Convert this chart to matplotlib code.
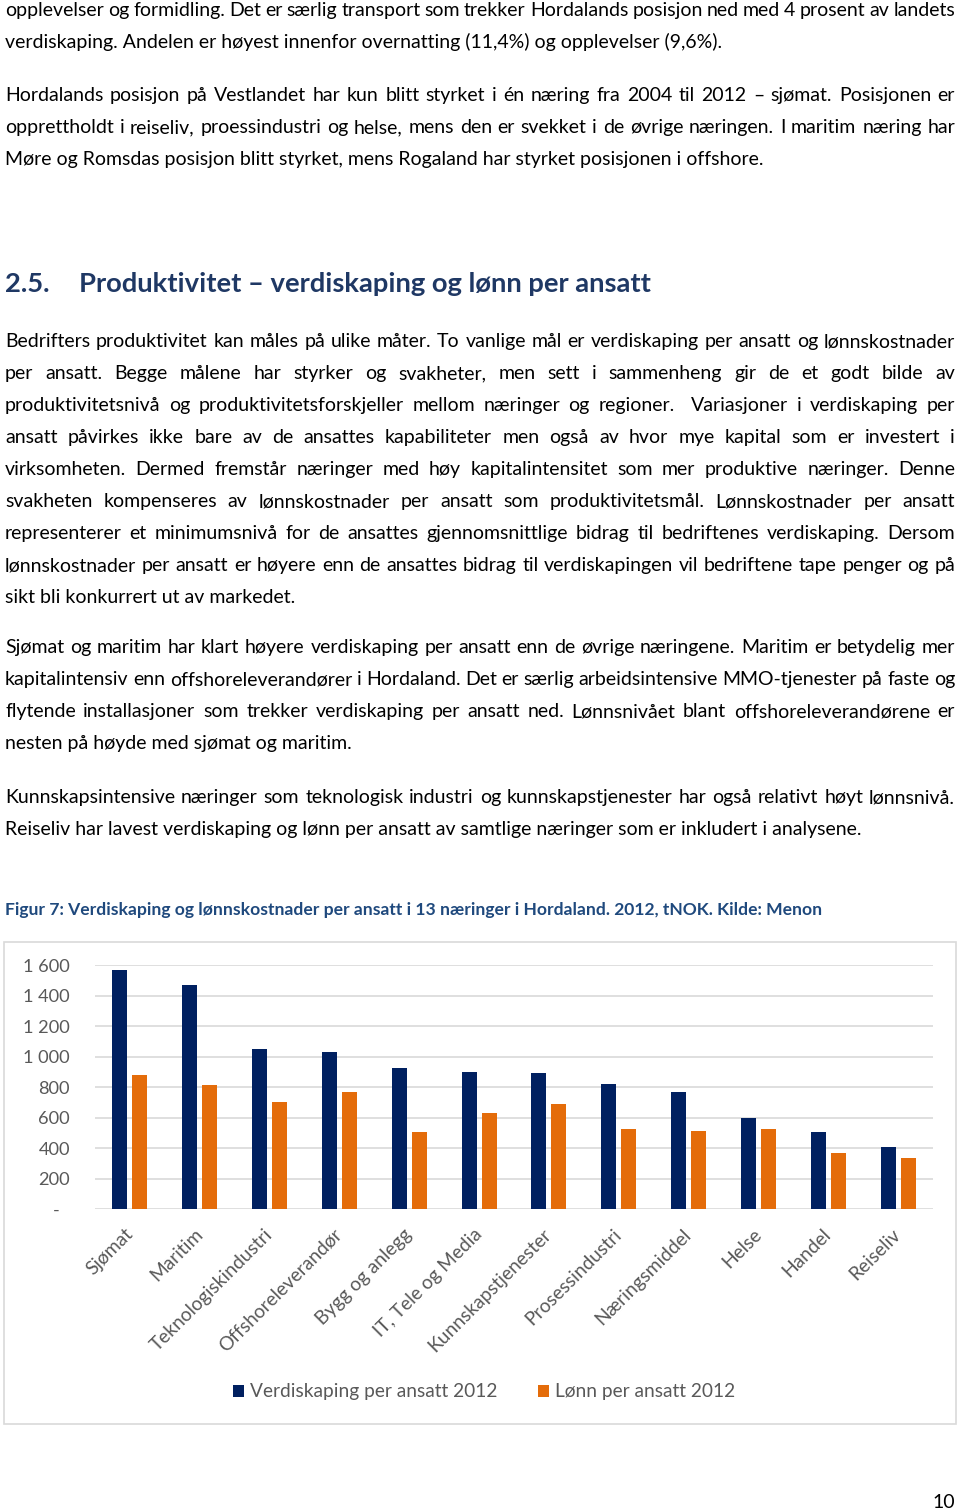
import matplotlib
matplotlib.use("Agg")
import matplotlib.pyplot as plt
import matplotlib.transforms as mtrans
from matplotlib.patches import Rectangle, Patch
from matplotlib.ticker import FixedLocator, FixedFormatter
import numpy as np

# ---------------- data ----------------
categories = ["Sjømat", "Maritim", "Teknologiskindustri", "Offshoreleverandør",
              "Bygg og anlegg", "IT, Tele og Media", "Kunnskapstjenester",
              "Prosessindustri", "Næringsmiddel", "Helse", "Handel", "Reiseliv"]
verdiskaping = [1570, 1467, 1050, 1031, 924, 900, 895, 821, 769, 600, 504, 410]
lonn = [880, 817, 701, 769, 509, 629, 690, 528, 511, 528, 371, 334]
y_ticks = [0, 200, 400, 600, 800, 1000, 1200, 1400, 1600]
y_tick_labels = ["-", "200", "400", "600", "800", "1 000", "1 200", "1 400", "1 600"]
series_names = ["Verdiskaping per ansatt 2012", "Lønn per ansatt 2012"]

para1 = [("opplevelser og formidling. Det er særlig transport som trekker Hordalands posisjon ned med 4 prosent av landets", True),
         ("verdiskaping. Andelen er høyest innenfor overnatting (11,4%) og opplevelser (9,6%).", False)]
para2 = [("Hordalands posisjon på Vestlandet har kun blitt styrket i én næring fra 2004 til 2012 – sjømat. Posisjonen er", True),
         ("opprettholdt i reiseliv, proessindustri og helse, mens den er svekket i de øvrige næringen. I maritim næring har", True),
         ("Møre og Romsdas posisjon blitt styrket, mens Rogaland har styrket posisjonen i offshore.", False)]
heading_num = "2.5."
heading_text = "Produktivitet – verdiskaping og lønn per ansatt"
para3 = [("Bedrifters produktivitet kan måles på ulike måter. To vanlige mål er verdiskaping per ansatt og lønnskostnader", True),
         ("per ansatt. Begge målene har styrker og svakheter, men sett i sammenheng gir de et godt bilde av", True),
         ("produktivitetsnivå og produktivitetsforskjeller mellom næringer og regioner.  Variasjoner i verdiskaping per", True),
         ("ansatt påvirkes ikke bare av de ansattes kapabiliteter men også av hvor mye kapital som er investert i", True),
         ("virksomheten. Dermed fremstår næringer med høy kapitalintensitet som mer produktive næringer. Denne", True),
         ("svakheten kompenseres av lønnskostnader per ansatt som produktivitetsmål. Lønnskostnader per ansatt", True),
         ("representerer et minimumsnivå for de ansattes gjennomsnittlige bidrag til bedriftenes verdiskaping. Dersom", True),
         ("lønnskostnader per ansatt er høyere enn de ansattes bidrag til verdiskapingen vil bedriftene tape penger og på", True),
         ("sikt bli konkurrert ut av markedet.", False)]
para4 = [("Sjømat og maritim har klart høyere verdiskaping per ansatt enn de øvrige næringene. Maritim er betydelig mer", True),
         ("kapitalintensiv enn offshoreleverandører i Hordaland. Det er særlig arbeidsintensive MMO-tjenester på faste og", True),
         ("flytende installasjoner som trekker verdiskaping per ansatt ned. Lønnsnivået blant offshoreleverandørene er", True),
         ("nesten på høyde med sjømat og maritim.", False)]
para5 = [("Kunnskapsintensive næringer som teknologisk industri og kunnskapstjenester har også relativt høyt lønnsnivå.", True),
         ("Reiseliv har lavest verdiskaping og lønn per ansatt av samtlige næringer som er inkludert i analysene.", False)]
caption = "Figur 7: Verdiskaping og lønnskostnader per ansatt i 13 næringer i Hordaland. 2012, tNOK. Kilde: Menon"
page_number = "10"

# ---------------- style ----------------
FONT = ["Lato", "DejaVu Sans"]
NAVY = "#002060"
ORANGE = "#E46C0A"
GRID = "#D9D9D9"
AXTXT = "#595959"
HEAD = "#1F3864"
CAPT = "#1F497D"

W, H = 960, 1512
fig = plt.figure(figsize=(W / 100, H / 100), dpi=100)
page = fig.add_axes([0, 0, 1, 1])
page.set_xlim(0, W)
page.set_ylim(H, 0)
page.axis("off")
renderer = fig.canvas.get_renderer()


def width_of(s, size=10, weight="normal"):
    t = page.text(0, 0, s, fontsize=size, family=FONT, weight=weight)
    w = t.get_window_extent(renderer).width
    t.remove()
    return w


X0, X1 = 5, 955
all_lines = para1 + para2 + para3 + para4 + para5
body = 10 * 857 / width_of(para5[1][0])
maxjust = max(width_of(l, 10) for l, j in all_lines if j)
body = min(body, 10 * (X1 - X0) / maxjust * 1.015)


def draw_line(text, y, justify, size, color="black", weight="normal"):
    if not justify:
        page.text(X0, y, text, fontsize=size, family=FONT, color=color,
                  weight=weight, va="baseline", ha="left")
        return
    words = text.split(" ")
    widths = [width_of(w, size, weight) if w else 0 for w in words]
    gap = (X1 - X0 - sum(widths)) / (len(words) - 1)
    x = X0
    for w, wd in zip(words, widths):
        if w:
            page.text(x, y, w, fontsize=size, family=FONT, color=color,
                      weight=weight, va="baseline", ha="left")
        x += wd + gap


def draw_para(lines, y0, step=32):
    for i, (t, j) in enumerate(lines):
        draw_line(t, y0 + i * step, j, body)


draw_para(para1, 16)
draw_para(para2, 101)
draw_para(para3, 347)
draw_para(para4, 653)
draw_para(para5, 803)

hsize = 10 * 573 / width_of(heading_text, 10, "bold")
page.text(5, 292, heading_num, fontsize=hsize, family=FONT, weight="bold",
          color=HEAD, va="baseline")
page.text(79, 292, heading_text, fontsize=hsize, family=FONT, weight="bold",
          color=HEAD, va="baseline")

csize = 10 * 815 / width_of(caption, 10, "bold")
page.text(5, 915, caption, fontsize=csize, family=FONT, weight="bold",
          color=CAPT, va="baseline")

page.text(955, 1508, page_number, fontsize=body, family=FONT, color="black",
          ha="right", va="baseline")

# chart border
page.add_patch(Rectangle((4, 942), 952, 482, fill=False, edgecolor=GRID, lw=1.2))

# ---------------- chart ----------------
chsize = 10 * 47 / width_of("1 600", 10)
lblsize = chsize * 1.05
ax_left, ax_right, ax_top, ax_bot = 95, 933, 965, 1209.3
ax = fig.add_axes([ax_left / W, 1 - ax_bot / H, (ax_right - ax_left) / W,
                   (ax_bot - ax_top) / H])
ax.set_facecolor("none")
x = np.arange(len(categories))
bw = 0.215
off = 0.143
ax.bar(x - off, verdiskaping, width=bw, color=NAVY, zorder=3)
ax.bar(x + off, lonn, width=bw, color=ORANGE, zorder=3)
ax.set_xlim(-0.5, len(categories) - 0.5)
ax.set_ylim(0, 1600)
for s in ax.spines.values():
    s.set_visible(False)
ax.yaxis.set_major_locator(FixedLocator(y_ticks))
ax.yaxis.set_major_formatter(FixedFormatter(y_tick_labels))
ax.yaxis.grid(True, color=GRID, lw=1.2, zorder=0)
ax.set_axisbelow(True)
ax.tick_params(axis="y", length=0, pad=18, labelsize=chsize, labelcolor=AXTXT)
for lab in ax.get_yticklabels():
    lab.set_family(FONT)
ax.set_xticks(x)
ax.set_xticklabels(categories, rotation=45, ha="right", va="center",
                   rotation_mode="anchor", family=FONT, fontsize=lblsize,
                   color=AXTXT)
ax.tick_params(axis="x", length=0, pad=16)
for tick in ax.yaxis.get_major_ticks():
    if tick.get_loc() == 0:
        tick.label1.set_transform(tick.label1.get_transform() +
                                  mtrans.ScaledTranslation(-10 / 100, 0, fig.dpi_scale_trans))

handles = [Patch(facecolor=NAVY), Patch(facecolor=ORANGE)]
leg = ax.legend(handles, series_names, loc="center", ncol=2,
                bbox_to_anchor=(484 / W, 1 - 1392 / H), bbox_transform=fig.transFigure,
                frameon=False, handlelength=0.6, handleheight=0.6, handletextpad=0.3,
                columnspacing=2.1, prop={"family": FONT, "size": lblsize})
for t in leg.get_texts():
    t.set_color(AXTXT)

fig.savefig("out.png", dpi=100)
